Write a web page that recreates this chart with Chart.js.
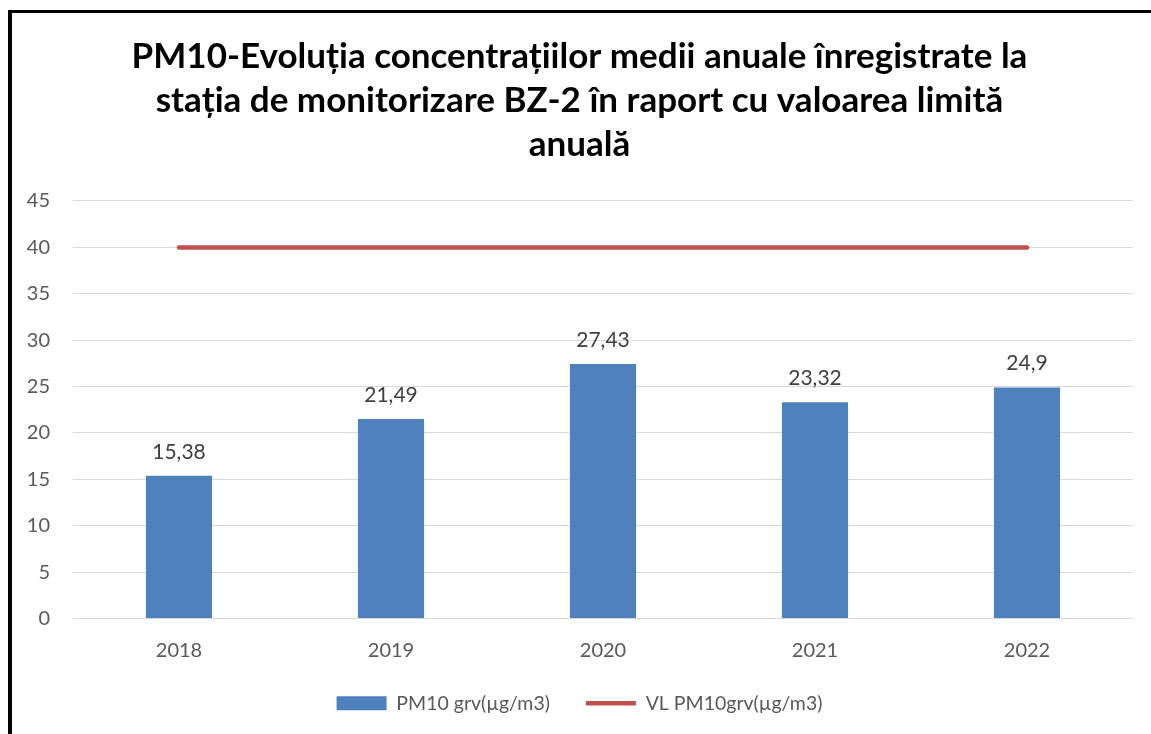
<!DOCTYPE html>
<html>
<head>
<meta charset="utf-8">
<script src="https://cdn.jsdelivr.net/npm/chart.js@4.4.0/dist/chart.umd.min.js"></script>
<style>
  html, body { margin: 0; padding: 0; background: #fff; }
  #wrap { position: relative; width: 1151px; height: 734px; overflow: hidden; }
  #frame {
    position: absolute; left: 8px; top: 10px; width: 1400px; height: 900px;
    border-left: 4px solid #000; border-top: 3px solid #000; pointer-events: none;
  }
</style>
</head>
<body>
<div id="wrap">
  <canvas id="pmChart" width="1151" height="734"></canvas>
  <div id="frame"></div>
</div>
<script>
// chart data
const years = ['2018', '2019', '2020', '2021', '2022'];
const pm10Values = [15.38, 21.49, 27.43, 23.32, 24.9];
const limitValues = [40, 40, 40, 40, 40];
const yTicks = [0, 5, 10, 15, 20, 25, 30, 35, 40, 45];
const titleLines = [
  'PM10-Evoluția concentrațiilor medii anuale înregistrate la',
  'stația de monitorizare BZ-2 în raport cu valoarea limită',
  'anuală'
];

const FONT = 'Lato, "Open Sans", sans-serif';

// value labels above the bars
const barLabels = {
  id: 'barLabels',
  afterDatasetsDraw(chart) {
    const meta = chart.getDatasetMeta(0);
    const ctx = chart.ctx;
    ctx.save();
    ctx.font = '21px ' + FONT;
    ctx.fillStyle = '#404040';
    ctx.textAlign = 'center';
    ctx.textBaseline = 'middle';
    meta.data.forEach((bar, i) => {
      const txt = String(pm10Values[i]).replace('.', ',');
      ctx.fillText(txt, bar.x, bar.y - 24);
    });
    ctx.restore();
  }
};

const ctx = document.getElementById('pmChart').getContext('2d');
new Chart(ctx, {
  data: {
    labels: years,
    datasets: [{
      type: 'bar',
      label: 'PM10 grv(µg/m3)',
      data: pm10Values,
      backgroundColor: '#4F81BD',
      borderWidth: 0,
      categoryPercentage: 1,
      barPercentage: 0.312,
    }, {
      type: 'line',
      label: 'VL PM10grv(µg/m3)',
      data: limitValues,
      borderColor: '#C0504D',
      backgroundColor: '#C0504D',
      borderWidth: 4.5,
      borderCapStyle: 'round',
      pointRadius: 0,
      fill: false,
      tension: 0,
    }]
  },
  options: {
    responsive: false,
    animation: false,
    layout: { padding: { left: 26, right: 18, top: 22, bottom: 11 } },
    plugins: {
      title: {
        display: true,
        text: titleLines,
        color: '#000',
        font: { family: FONT, size: 35, weight: 'bold', lineHeight: 1.257 },
        padding: { top: 13, bottom: 34 },
      },
      legend: {
        position: 'bottom',
        labels: {
          usePointStyle: true,
          pointStyleWidth: 50,
          boxHeight: 14,
          padding: 36,
          color: '#595959',
          font: { family: FONT, size: 19.5 },
          generateLabels(chart) {
            const items = Chart.defaults.plugins.legend.labels.generateLabels(chart);
            items.forEach((it, i) => {
              it.pointStyle = i === 0 ? 'rect' : 'line';
            });
            return items;
          }
        }
      },
      tooltip: { enabled: false },
    },
    scales: {
      x: {
        afterFit: (scale) => { scale.height = 39; },
        grid: { display: false },
        border: { display: false },
        ticks: { color: '#595959', font: { family: FONT, size: 20 }, padding: 12 },
      },
      y: {
        min: 0,
        max: 45,
        afterFit: (scale) => { scale.width = 47; },
        afterBuildTicks: (scale) => { scale.ticks = yTicks.map(v => ({ value: v })); },
        grid: { color: '#D9D9D9', lineWidth: 1, drawTicks: false },
        border: { display: false },
        ticks: { color: '#595959', font: { family: FONT, size: 20 }, padding: 23 },
      }
    }
  },
  plugins: [barLabels]
});
</script>
</body>
</html>
